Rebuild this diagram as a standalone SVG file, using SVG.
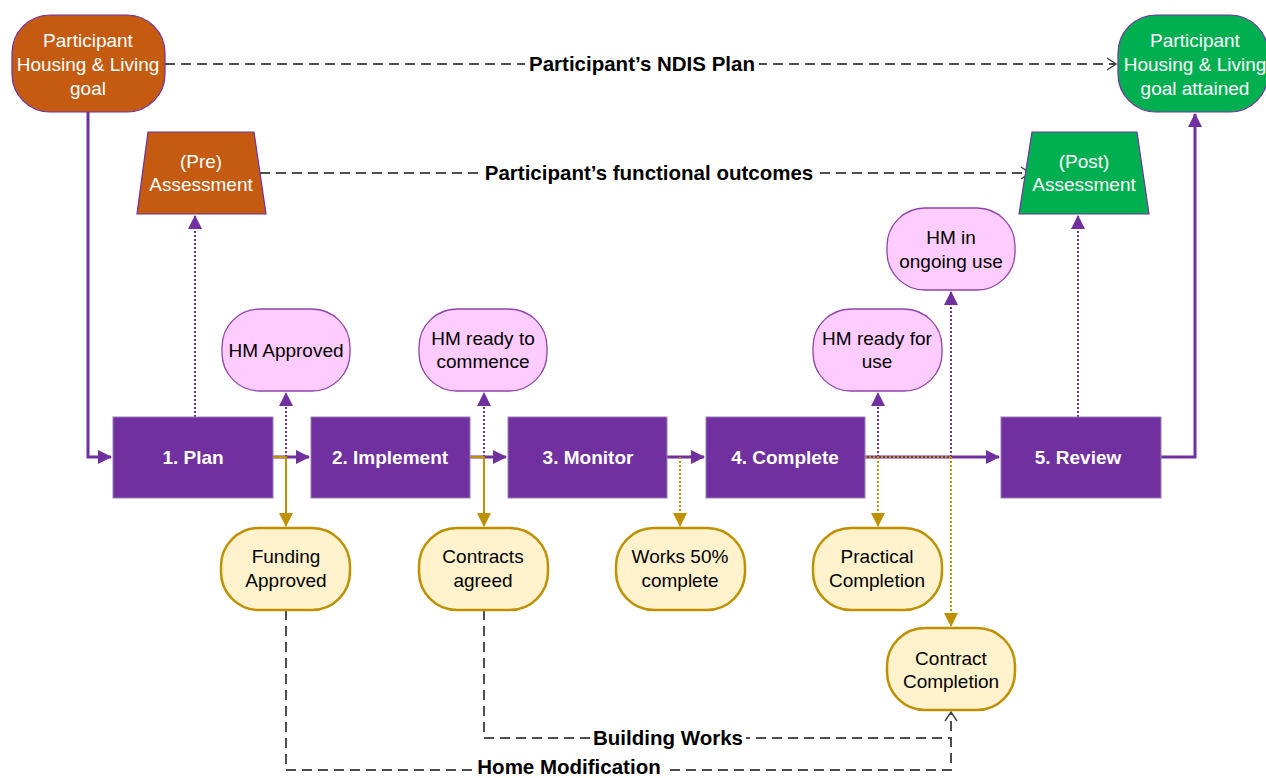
<svg xmlns="http://www.w3.org/2000/svg" width="1266" height="778" viewBox="0 0 1266 778">
<defs>
<marker id="ap" markerUnits="userSpaceOnUse" markerWidth="14" markerHeight="14" refX="13" refY="7" orient="auto"><path d="M0,0 L14,7 L0,14 z" fill="#7030A0"/></marker>
<marker id="ag" markerUnits="userSpaceOnUse" markerWidth="14" markerHeight="14" refX="13" refY="7" orient="auto"><path d="M0,0 L14,7 L0,14 z" fill="#BF9000"/></marker>
<marker id="ao" markerUnits="userSpaceOnUse" markerWidth="12" markerHeight="14" refX="10" refY="7" orient="auto"><path d="M1,1 L10,7 L1,13" fill="none" stroke="#404040" stroke-width="1.5"/></marker>
</defs>
<style>
text{font-family:"Liberation Sans",Arial,sans-serif;font-size:19px;text-anchor:middle}
.w{fill:#fff}
.b{fill:#fff;font-weight:bold}
.k{fill:#000}
.lbl{fill:#000;font-weight:bold;font-size:20.5px}
.step{fill:#7030A0;stroke:#9A7FB5;stroke-width:1}
.pink{fill:#FFCCFF;stroke:#8E44AD;stroke-width:1.3}
.yel{fill:#FFF2CC;stroke:#BF9000;stroke-width:2.5}
.main{fill:none;stroke:#7030A0;stroke-width:3}
.pdot{fill:none;stroke:#7030A0;stroke-width:2;stroke-dasharray:2,2}
.gdot{fill:none;stroke:#BF9000;stroke-width:2;stroke-dasharray:2,2}
.gsol{fill:none;stroke:#BF9000;stroke-width:2}
.dash{fill:none;stroke:#4d4d4d;stroke-width:2;stroke-dasharray:10,6}
</style>
<rect width="1266" height="778" fill="#fff"/>
<g id="connectors">
<path class="main" d="M88,112 V457 H111" marker-end="url(#ap)"/>
<path class="main" d="M273,457 H309" marker-end="url(#ap)"/>
<path class="main" d="M470,457 H506" marker-end="url(#ap)"/>
<path class="main" d="M667,457 H704" marker-end="url(#ap)"/>
<path class="main" d="M865,457 H999" marker-end="url(#ap)"/>
<path class="main" d="M1161,457 H1195 V114" marker-end="url(#ap)"/>
<path class="pdot" d="M195,417 V216" marker-end="url(#ap)"/>
<path class="pdot" d="M1078,417 V216" marker-end="url(#ap)"/>
<path class="pdot" d="M286,457 V393" marker-end="url(#ap)"/>
<path class="pdot" d="M484,457 V393" marker-end="url(#ap)"/>
<path class="pdot" d="M878,457 V393" marker-end="url(#ap)"/>
<path class="pdot" d="M951,457 V292" marker-end="url(#ap)"/>
<path class="gsol" d="M273,457 H286 V526" marker-end="url(#ag)"/>
<path class="gsol" d="M470,457 H484 V526" marker-end="url(#ag)"/>
<path class="gdot" d="M680,457 V526" marker-end="url(#ag)"/>
<path class="gdot" d="M865,457 H951"/>
<path class="gdot" d="M878,457 V526" marker-end="url(#ag)"/>
<path class="gdot" d="M951,457 V626" marker-end="url(#ag)"/>
<path class="dash" d="M165,64 H1116" marker-end="url(#ao)"/>
<path class="dash" d="M260,173 H1030" marker-end="url(#ao)"/>
<path class="dash" d="M286,610 V770 H951 V712" marker-end="url(#ao)"/>
<path class="dash" d="M484,610 V738 H951"/>
<rect x="525" y="52" width="234" height="24" fill="#fff"/>
<text class="lbl" x="642" y="71">Participant’s NDIS Plan</text>
<rect x="480" y="161" width="338" height="24" fill="#fff"/>
<text class="lbl" x="649" y="180">Participant’s functional outcomes</text>
<rect x="590" y="726" width="156" height="24" fill="#fff"/>
<text class="lbl" x="668" y="745">Building Works</text>
<rect x="474" y="758" width="190" height="20" fill="#fff"/>
<text class="lbl" x="569" y="774">Home Modification</text>
</g>
<g id="goal-start">
<rect x="12" y="15" width="153" height="97" rx="38" fill="#C55A11" stroke="#7030A0" stroke-width="1.2"/>
<text class="w" x="88" y="47">Participant</text>
<text class="w" x="88" y="71">Housing &amp; Living</text>
<text class="w" x="88" y="95">goal</text>
</g>
<g id="goal-end">
<rect x="1118" y="15" width="150" height="97" rx="38" fill="#00B050" stroke="#7030A0" stroke-width="1.2"/>
<text class="w" x="1195" y="47">Participant</text>
<text class="w" x="1195" y="71">Housing &amp; Living</text>
<text class="w" x="1195" y="95">goal attained</text>
</g>
<g id="pre-assessment">
<polygon points="148,132 254,132 266,214 137,214" fill="#C55A11" stroke="#7030A0" stroke-width="1.2"/>
<text class="w" x="201" y="168">(Pre)</text>
<text class="w" x="201" y="191">Assessment</text>
</g>
<g id="post-assessment">
<polygon points="1032,132 1137,132 1149,214 1019,214" fill="#00B050" stroke="#7030A0" stroke-width="1.2"/>
<text class="w" x="1084" y="168">(Post)</text>
<text class="w" x="1084" y="191">Assessment</text>
</g>
<g id="step1"><rect class="step" x="113" y="417" width="160" height="81"/><text class="b" x="193" y="464">1. Plan</text></g>
<g id="step2"><rect class="step" x="311" y="417" width="159" height="81"/><text class="b" x="390" y="464">2. Implement</text></g>
<g id="step3"><rect class="step" x="508" y="417" width="159" height="81"/><text class="b" x="588" y="464">3. Monitor</text></g>
<g id="step4"><rect class="step" x="706" y="417" width="159" height="81"/><text class="b" x="785" y="464">4. Complete</text></g>
<g id="step5"><rect class="step" x="1001" y="417" width="160" height="81"/><text class="b" x="1078" y="464">5. Review</text></g>
<g id="hm-approved"><rect class="pink" x="222" y="309" width="128" height="82" rx="38"/><text class="k" x="286" y="357">HM Approved</text></g>
<g id="hm-ready-commence"><rect class="pink" x="419" y="309" width="128" height="82" rx="38"/><text class="k" x="483" y="345">HM ready to</text><text class="k" x="483" y="368">commence</text></g>
<g id="hm-ready-use"><rect class="pink" x="813" y="309" width="129" height="82" rx="38"/><text class="k" x="877" y="345">HM ready for</text><text class="k" x="877" y="368">use</text></g>
<g id="hm-ongoing"><rect class="pink" x="887" y="208" width="128" height="82" rx="38"/><text class="k" x="951" y="244">HM in</text><text class="k" x="951" y="268">ongoing use</text></g>
<g id="funding-approved"><rect class="yel" x="221" y="528" width="129" height="82" rx="38"/><text class="k" x="286" y="563">Funding</text><text class="k" x="286" y="587">Approved</text></g>
<g id="contracts-agreed"><rect class="yel" x="419" y="528" width="129" height="82" rx="38"/><text class="k" x="483" y="563">Contracts</text><text class="k" x="483" y="587">agreed</text></g>
<g id="works-50"><rect class="yel" x="616" y="528" width="129" height="82" rx="38"/><text class="k" x="680" y="563">Works 50%</text><text class="k" x="680" y="587">complete</text></g>
<g id="practical-completion"><rect class="yel" x="813" y="528" width="129" height="82" rx="38"/><text class="k" x="877" y="563">Practical</text><text class="k" x="877" y="587">Completion</text></g>
<g id="contract-completion"><rect class="yel" x="887" y="628" width="128" height="82" rx="38"/><text class="k" x="951" y="665">Contract</text><text class="k" x="951" y="688">Completion</text></g>
</svg>
